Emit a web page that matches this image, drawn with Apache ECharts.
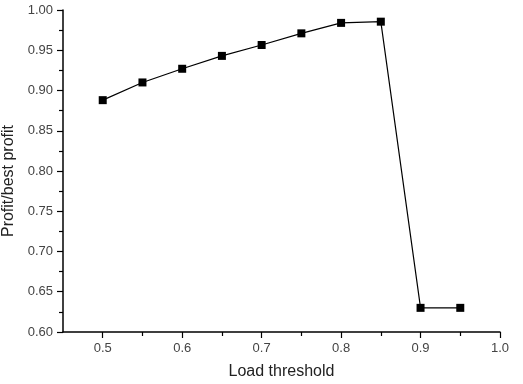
<!DOCTYPE html>
<html>
<head>
<meta charset="utf-8">
<script src="https://cdn.jsdelivr.net/npm/echarts@6/dist/echarts.min.js"></script>
<style>
  html, body { margin: 0; padding: 0; background: #fff; }
  #chart { width: 523px; height: 384px; }
</style>
</head>
<body>
<div id="chart"></div>
<script>
const thresholds = [0.5, 0.55, 0.6, 0.65, 0.7, 0.75, 0.8, 0.85, 0.9, 0.95];
const profitRatio = [0.888, 0.910, 0.927, 0.943, 0.9565, 0.971, 0.984, 0.9855, 0.630, 0.630];
const xMajorTicks = [0.5, 0.6, 0.7, 0.8, 0.9, 1.0];
const xMinorTicks = [0.55, 0.65, 0.75, 0.85, 0.95];

const chart = echarts.init(document.getElementById('chart'));

const font = 'Liberation Sans, Arial, sans-serif';
const axisLine = { show: true, lineStyle: { color: '#000', width: 1.5 } };
const tickStyle = { color: '#000', width: 1.2 };

chart.setOption({
    animation: false,
    grid: { left: 63, right: 23, top: 10, bottom: 52, outerBoundsMode: 'none', containLabel: false },
    xAxis: [
        {
            type: 'value',
            min: 0.45,
            max: 1.0,
            name: 'Load threshold',
            nameLocation: 'middle',
            nameGap: 32,
            nameTextStyle: { fontFamily: font, fontSize: 16, color: '#222' },
            axisLine: axisLine,
            axisTick: { show: true, customValues: xMajorTicks, length: 6, lineStyle: tickStyle },
            axisLabel: {
                customValues: xMajorTicks,
                fontFamily: font, fontSize: 13, color: '#444', margin: 10,
                formatter: v => v.toFixed(1)
            },
            splitLine: { show: false }
        },
        {
            type: 'value',
            min: 0.45,
            max: 1.0,
            position: 'bottom',
            axisLine: { show: false },
            axisTick: { show: true, customValues: xMinorTicks, length: 4, lineStyle: tickStyle },
            axisLabel: { show: false },
            splitLine: { show: false }
        }
    ],
    yAxis: {
        type: 'value',
        min: 0.6,
        max: 1.0,
        interval: 0.05,
        name: 'Profit/best profit',
        nameLocation: 'middle',
        nameGap: 43,
        nameTextStyle: { fontFamily: font, fontSize: 16, color: '#222', padding: [0, 20, 0, 0] },
        axisLine: axisLine,
        axisTick: { show: true, length: 6, lineStyle: tickStyle },
        minorTick: { show: true, splitNumber: 2, length: 4, lineStyle: tickStyle },
        axisLabel: {
            fontFamily: font, fontSize: 13, color: '#444', margin: 10,
            formatter: v => v.toFixed(2)
        },
        splitLine: { show: false }
    },
    series: [{
        type: 'line',
        data: thresholds.map((x, i) => [x, profitRatio[i]]),
        symbol: 'rect',
        symbolSize: 8,
        itemStyle: { color: '#000' },
        lineStyle: { color: '#000', width: 1.2 }
    }]
});
</script>
</body>
</html>
